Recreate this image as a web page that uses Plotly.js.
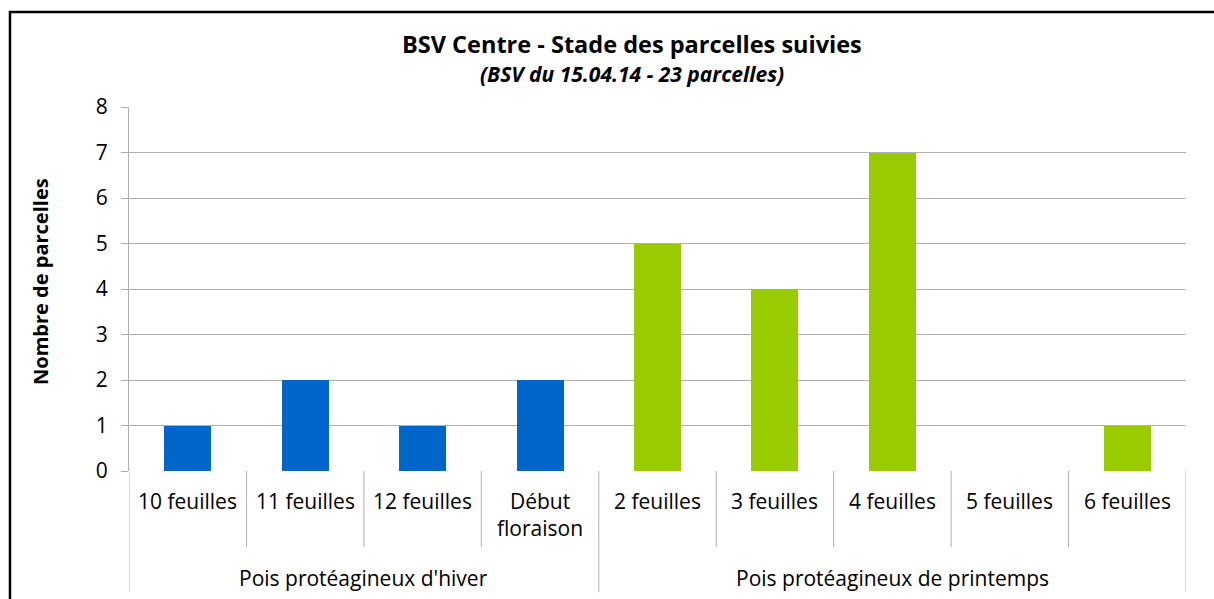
<!DOCTYPE html>
<html>
<head>
<meta charset="utf-8">
<script src="https://cdn.plot.ly/plotly-3.0.1.min.js"></script>
<style>
html,body{margin:0;padding:0;background:#fff;}
#chart{width:1214px;height:599px;}
</style>
</head>
<body>
<div id="chart"></div>
<script>
const categories = ["10 feuilles","11 feuilles","12 feuilles","Début<br>floraison","2 feuilles","3 feuilles","4 feuilles","5 feuilles","6 feuilles"];
const groups = ["Pois protéagineux d'hiver","Pois protéagineux de printemps"];
const groupSizes = [4,5];
const values = [1,2,1,2,5,4,7,0,1];
const groupColors = ["#0066CC","#99CC00"];
const yTicks = [0,1,2,3,4,5,6,7,8];

const FONT = "'Open Sans', 'Liberation Sans', sans-serif";

const xs = categories.map((c,i)=>i+0.5);
const colors = [];
groupSizes.forEach((n,g)=>{for(let k=0;k<n;k++) colors.push(groupColors[g]);});

const trace = {
  type:'bar', x: xs, y: values, width: 0.4,
  marker:{color:colors, line:{width:0}},
  hoverinfo:'skip'
};

const shapes = [];
const annotations = [];
for(let i=0;i<=categories.length;i++){
  let isGroupEdge = (i===0 || i===categories.length);
  let cum=0; groupSizes.forEach(n=>{cum+=n; if(cum===i) isGroupEdge=true;});
  shapes.push({type:'line', xref:'x', yref:'paper', x0:i, x1:i, y0:0, y1: isGroupEdge ? -0.333 : -0.209,
    line:{color:'#b0b0b0', width:1}});
}
categories.forEach((c,i)=>{
  annotations.push({xref:'x', yref:'paper', x:i+0.5, y:-0.039, yanchor:'top', text:c, showarrow:false,
    font:{family:FONT, size:21, color:'#000'}, align:'center'});
});
let start=0;
groupSizes.forEach((n,g)=>{
  annotations.push({xref:'x', yref:'paper', x:start+n/2, y:-0.295, yanchor:'middle', text:groups[g], showarrow:false,
    font:{family:FONT, size:21, color:'#000'}});
  start+=n;
});
annotations.push({xref:'paper', yref:'paper', x:0.476, y:1.173, yanchor:'middle', text:'<b>BSV Centre - Stade des parcelles suivies</b>',
  showarrow:false, font:{family:FONT, size:23.5, color:'#000'}});
annotations.push({xref:'paper', yref:'paper', x:0.476, y:1.09, yanchor:'middle', text:'<b><i>(BSV du 15.04.14 - 23 parcelles)</i></b>',
  showarrow:false, font:{family:FONT, size:21, color:'#000'}});
annotations.push({xref:'paper', yref:'paper', x:-0.0833, y:0.522, xanchor:'center', yanchor:'middle', textangle:-90,
  text:'<b>Nombre de parcelles</b>', showarrow:false, font:{family:FONT, size:20, color:'#000'}});
shapes.push({type:'rect', xref:'paper', yref:'paper', x0:-0.1126, x1:1.05, y0:-0.4, y1:1.261, line:{color:'#000', width:2.5}});

const layout = {
  width:1214, height:599,
  margin:{l:129, r:28, t:107, b:128},
  paper_bgcolor:'#fff', plot_bgcolor:'#fff',
  showlegend:false,
  bargap:0,
  xaxis:{range:[0,categories.length], showticklabels:false, showgrid:false, zeroline:false, showline:false, ticks:'', fixedrange:true},
  yaxis:{range:[0,8], tickvals:yTicks, showgrid:true, gridcolor:'#b0b0b0', gridwidth:1, zeroline:false,
    showline:true, linecolor:'#b0b0b0', linewidth:1, ticks:'outside', ticklen:7, tickcolor:'#b0b0b0',
    tickfont:{family:FONT, size:21, color:'#000'}, ticklabelstandoff:9},
  shapes: shapes,
  annotations: annotations
};
Plotly.newPlot('chart',[trace],layout,{displayModeBar:false, staticPlot:true});
</script>
</body>
</html>
